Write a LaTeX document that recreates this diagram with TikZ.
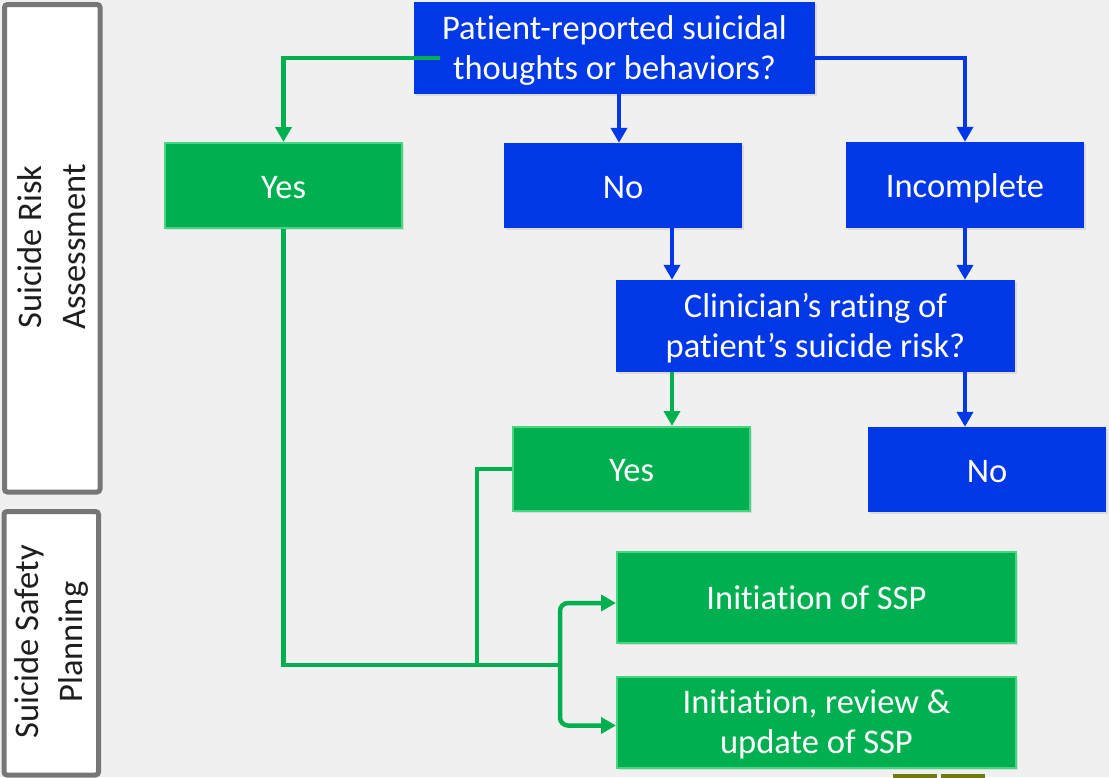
\documentclass[tikz,border=0pt]{standalone}
\usepackage{fontspec}
\setmainfont{Carlito}[Ligatures={NoCommon,NoRequired}]
\usetikzlibrary{arrows.meta,shadows,calc}
\definecolor{pblue}{RGB}{0,56,232}
\definecolor{pgreen}{RGB}{0,176,80}
\definecolor{pgreenedge}{RGB}{70,214,130}
\definecolor{bgray}{RGB}{240,240,240}
\definecolor{framegray}{RGB}{118,118,118}
\definecolor{olivebar}{RGB}{112,124,14}
\definecolor{labeltext}{RGB}{30,30,30}
% uniform line heights for box texts
\newcommand{\lnstrut}{\rule[-0.2em]{0pt}{1.05em}}
\newcommand{\onestrut}{\rule[-0.2em]{0pt}{1.15em}}

\begin{document}
\begin{tikzpicture}[x=1pt,y=-1pt,
  box/.style={rectangle, inner sep=0pt, align=center, text=white,
    font=\fontsize{34.5}{40}\selectfont,
    drop shadow={shadow xshift=2pt,shadow yshift=-2pt,opacity=0.18}},
  bluebox/.style={box, fill=pblue},
  greenbox/.style={box, fill=pgreen, draw=pgreenedge, line width=2pt},
  wire/.style={line width=4.5pt},
  bluewire/.style={wire, draw=pblue},
  greenwire/.style={wire, draw=pgreen},
  tip/.style={-{Triangle[width=16pt,length=15pt]}},
  phase/.style={draw=framegray, line width=5pt, fill=white, rounded corners=3pt},
  phaselabel/.style={rotate=90, align=center, text=labeltext,
    font=\fontsize{34.5}{44}\selectfont}
]
% canvas
\fill[bgray] (0,0) rectangle (1109,777);
\useasboundingbox (0,0) rectangle (1109,777);

% phase frames on the left
\draw[phase] (4.5,4.5) rectangle (100,492);
\node[phaselabel] (phaseA) at (52,247) {Suicide Risk\\Assessment};
\draw[phase] (4,511.5) rectangle (98.5,775);
\node[phaselabel] (phaseB) at (51,642) {Suicide Safety\\Planning};

% assessment boxes
\node[bluebox, minimum width=401pt, minimum height=92pt] (Q1) at (614.5,48)
  {\lnstrut Patient-reported suicidal\\\lnstrut thoughts or behaviors?};
\node[greenbox, minimum width=237pt, minimum height=85pt] (Y1) at (283.5,185.5) {\onestrut Yes};
\node[bluebox, minimum width=238pt, minimum height=85pt] (N1) at (623,185.5) {\onestrut No};
\node[bluebox, minimum width=238pt, minimum height=86pt] (Inc) at (965,185) {\onestrut Incomplete};
\node[bluebox, minimum width=399pt, minimum height=92pt] (Q2) at (815.5,326)
  {\lnstrut Clinician’s rating of\\\lnstrut patient’s suicide risk?};
\node[greenbox, minimum width=237pt, minimum height=84pt] (Y2) at (631.5,469) {\onestrut Yes};
\node[bluebox, minimum width=238pt, minimum height=85pt] (N2) at (987,469.5) {\onestrut No};

% safety planning boxes
\node[greenbox, minimum width=399pt, minimum height=91pt] (S1) at (816.5,597) {\onestrut Initiation of SSP};
\node[greenbox, minimum width=399pt, minimum height=91pt] (S2) at (816.5,722.5)
  {\lnstrut Initiation, review \&\\\lnstrut update of SSP};

% small bars at the lower edge
\fill[olivebar] (893,774) rectangle (937,778);
\fill[olivebar] (941,774) rectangle (985,778);

% routing helpers
\coordinate (colA) at (672,0);
\coordinate (colB) at (477,0);
\coordinate (jn) at (560,665);
\path ([xshift=4.5pt]Q1.south) coordinate (q1s);

% connectors
\draw[greenwire,tip] ([xshift=26pt,yshift=-10pt]Q1.west) -| (Y1.north);
\draw[bluewire,tip] (q1s) -- (q1s |- N1.north);
\draw[bluewire,tip] ([xshift=-4pt,yshift=-10pt]Q1.east) -| (Inc.north);
\draw[bluewire,tip] (N1.south -| colA) -- (Q2.north -| colA);
\draw[bluewire,tip] (Inc.south) -- (Inc.south |- Q2.north);
\draw[greenwire,tip] (Q2.south -| colA) -- (Y2.north -| colA);
\draw[bluewire,tip] (Q2.south -| Inc.south) -- (N2.north -| Inc.south);
\draw[greenwire] (Y1.south) |- (jn);
\draw[greenwire] (Y2.west) -| (colB |- jn);
\draw[greenwire,tip,rounded corners=8pt] (jn) |- ([yshift=-6pt]S1.west);
\draw[greenwire,tip,rounded corners=8pt] (jn) |- ([yshift=-3pt]S2.west);
\end{tikzpicture}
\end{document}
